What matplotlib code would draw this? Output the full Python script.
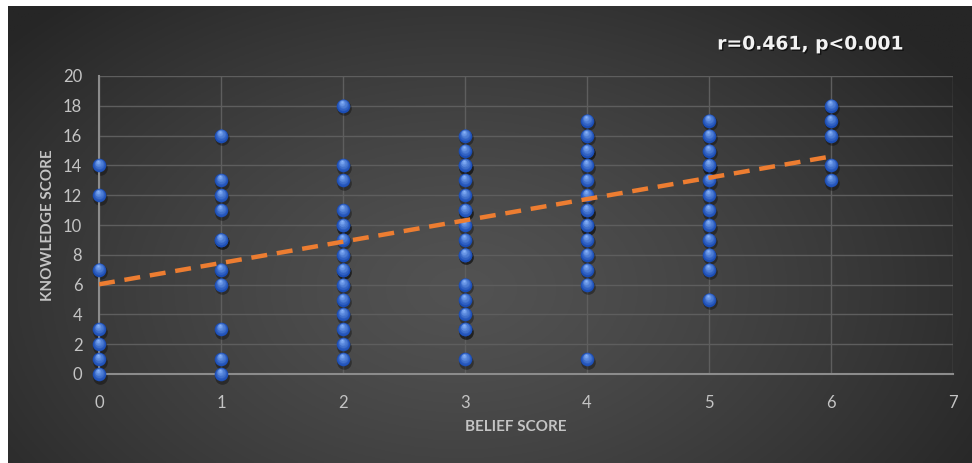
import numpy as np
import matplotlib
matplotlib.use("Agg")
import matplotlib.pyplot as plt
from matplotlib.transforms import offset_copy
from matplotlib import patheffects as pe

# Belief score (x) and knowledge score (y) for each respondent
belief = [0, 0, 0, 0, 0, 0, 0,
          1, 1, 1, 1, 1, 1, 1, 1, 1, 1, 1,
          2, 2, 2, 2, 2, 2, 2, 2, 2, 2, 2, 2, 2, 2, 2, 2,
          3, 3, 3, 3, 3, 3, 3, 3, 3, 3, 3, 3, 3, 3, 3, 3, 3, 3,
          4, 4, 4, 4, 4, 4, 4, 4, 4, 4, 4, 4, 4, 4, 4, 4,
          5, 5, 5, 5, 5, 5, 5, 5, 5, 5, 5, 5, 5,
          6, 6, 6, 6, 6]
knowledge = [0, 1, 2, 3, 7, 12, 14,
             0, 1, 3, 6, 7, 9, 9, 11, 12, 13, 16,
             1, 2, 3, 4, 5, 6, 7, 7, 8, 9, 10, 10, 11, 13, 14, 18,
             1, 3, 3, 4, 5, 6, 8, 8, 9, 10, 11, 11, 12, 13, 14, 14, 15, 16,
             1, 6, 7, 8, 9, 10, 10, 11, 11, 12, 13, 14, 15, 15, 16, 17,
             5, 7, 8, 9, 10, 11, 12, 13, 14, 14, 15, 16, 17,
             13, 14, 16, 17, 18]

# Linear trend line
trend_intercept = 6.02
trend_slope = 1.43

x_ticks = [0, 1, 2, 3, 4, 5, 6, 7]
y_ticks = [0, 2, 4, 6, 8, 10, 12, 14, 16, 18, 20]
stat_label = "r=0.461, p<0.001"

W, H, DPI = 972, 463, 100
fig = plt.figure(figsize=(W / DPI, H / DPI), dpi=DPI)
fig.patch.set_facecolor("white")

# Dark radial-gradient chart area
bg = fig.add_axes([8 / W, 0, 1 - 8 / W, 1 - 6 / H])
bg.set_axis_off()
gx, gy = np.meshgrid(np.linspace(0, 1, 400), np.linspace(0, 1, 200))
d = np.sqrt(((gx - 0.47) / 0.62) ** 2 + ((gy - 0.62) / 0.85) ** 2)
t = np.clip(d, 0, 1) ** 1.3
c0 = np.array([0x52, 0x52, 0x52]) / 255
c1 = np.array([0x26, 0x26, 0x26]) / 255
img = c0[None, None, :] * (1 - t[..., None]) + c1[None, None, :] * t[..., None]
bg.imshow(img, aspect="auto", extent=[0, 1, 0, 1], origin="upper")
bg.set_xlim(0, 1)
bg.set_ylim(0, 1)

ax = fig.add_axes([99 / W, 89 / H, 854 / W, 298 / H])
ax.set_facecolor("none")
ax.set_xlim(0, 7)
ax.set_ylim(0, 20)
ax.set_xticks(x_ticks)
ax.set_yticks(y_ticks)
ax.grid(True, color="#5e5e5e", linewidth=1.0, zorder=0)
ax.set_axisbelow(True)
for side in ["top", "right"]:
    ax.spines[side].set_visible(False)
for side in ["left", "bottom"]:
    ax.spines[side].set_color("#8c8c8c")
    ax.spines[side].set_linewidth(1.5)
ax.tick_params(length=0, colors="#c4c4c4", labelsize=12)
ax.tick_params(axis="x", pad=15)
ax.tick_params(axis="y", pad=12)
for lab in ax.get_xticklabels() + ax.get_yticklabels():
    lab.set_family("Lato")

ax.set_xlabel("BELIEF SCORE", family="Lato", fontweight="bold",
              fontsize=11, color="#c4c4c4")
ax.xaxis.set_label_coords((516 - 99) / 854, -(420 - 374) / 298)
ax.set_ylabel("KNOWLEDGE SCORE", family="Lato", fontweight="bold",
              fontsize=11, color="#c4c4c4")
ax.yaxis.set_label_coords(-(99 - 55) / 854, 0.5)

# Sphere-like markers: drop shadow, then layered radial shading
size = 96
shadow_tr = offset_copy(ax.transData, fig=fig, x=1.0, y=-2.5, units="dots")
ax.scatter(belief, knowledge, s=size * 1.15, color="black", alpha=0.35,
           linewidths=0, transform=shadow_tr, zorder=2, clip_on=False)
dark = np.array([0x1a, 0x4c, 0xb4]) / 255
light = np.array([0x86, 0xb2, 0xf8]) / 255
n_layers = 9
for k in range(n_layers):
    f = 1 - k / n_layers
    frac = (k / (n_layers - 1)) ** 1.1
    col = dark * (1 - frac) + light * frac
    shift = (1 - f) * 4.5
    tr = offset_copy(ax.transData, fig=fig, x=-shift * 0.25, y=shift, units="dots")
    ax.scatter(belief, knowledge, s=size * f ** 2, color=col, linewidths=0,
               transform=tr, zorder=3 + k * 0.01, clip_on=False)

# Trend line
xs = np.array([0, 6])
ax.plot(xs, trend_intercept + trend_slope * xs, color="#ed7d31",
        linewidth=3.2, linestyle=(0, (3.6, 2.2)), zorder=5,
        solid_capstyle="butt")

fig.text(810 / W, 1 - 44 / H, stat_label, ha="center", va="center",
         family="DejaVu Sans", fontweight="bold", fontsize=13.5, color="#f2f2f2",
         path_effects=[pe.withSimplePatchShadow(offset=(1, -1),
                                                shadow_rgbFace="black",
                                                alpha=0.6)])

fig.savefig("out.png", dpi=DPI, facecolor=fig.get_facecolor())
